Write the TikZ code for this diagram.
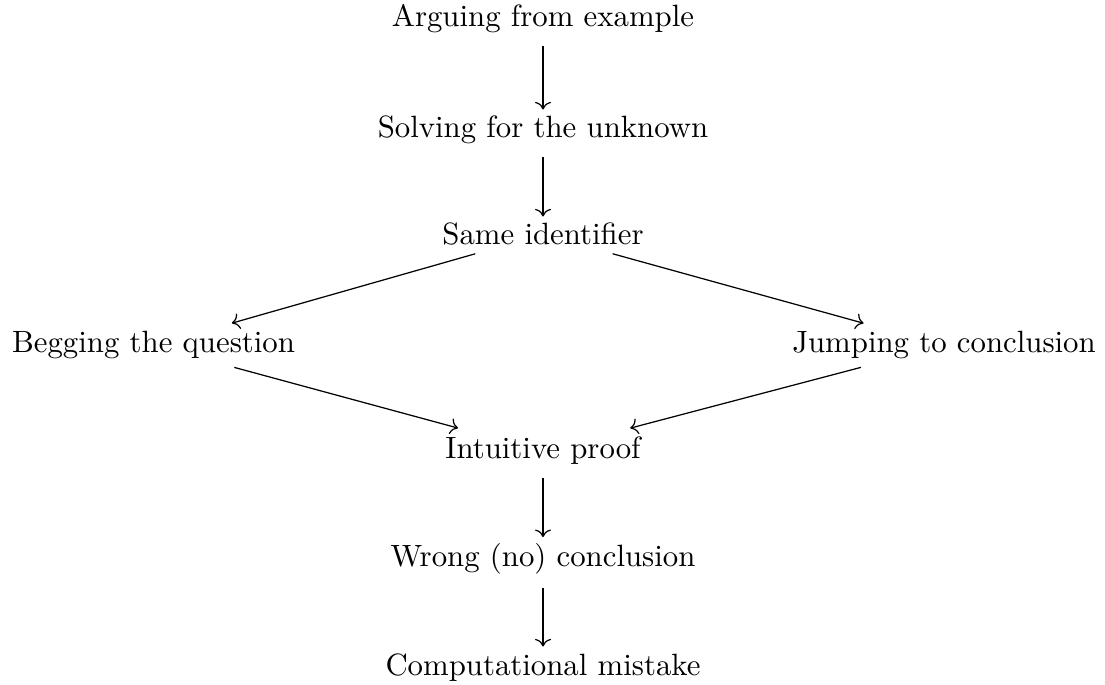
\documentclass[tikz,border=0pt]{standalone}
\usepackage{tikz-cd}
\begin{document}
\begin{tikzpicture}[x=0.3247pt,y=-0.3247pt,
  lbl/.style={anchor=base,inner sep=2pt},
  arr/.style={-cm to,line width=0.4pt},
  varr/.style={arr,shorten <=2pt},
  darr/.style={arr,shorten <=1.6pt,shorten >=2pt},
  larr/.style={arr,shorten <=1.6pt,shorten >=3pt}]
\useasboundingbox (0,0) rectangle (1105,685);
\node[lbl] (a) at (543,27)  {Arguing from example};
\node[lbl] (b) at (543,138) {Solving for the unknown};
\node[lbl] (c) at (543,245) {Same identifier};
\node[lbl] (d) at (153.5,353) {Begging the question};
\node[lbl] (e) at (944,353) {Jumping to conclusion};
\node[lbl] (f) at (543,459) {Intuitive proof};
\node[lbl] (g) at (543,567) {Wrong (no) conclusion};
\node[lbl] (h) at (543,675) {Computational mistake};
\draw[varr] (a) -- (b);
\draw[varr] (b) -- (c);
\draw[darr] (c) -- (d);
\draw[darr] (c) -- (e);
\draw[larr] (d) -- (f);
\draw[larr] (e) -- (f);
\draw[varr] (f) -- (g);
\draw[varr] (g) -- (h);
\end{tikzpicture}
\end{document}
